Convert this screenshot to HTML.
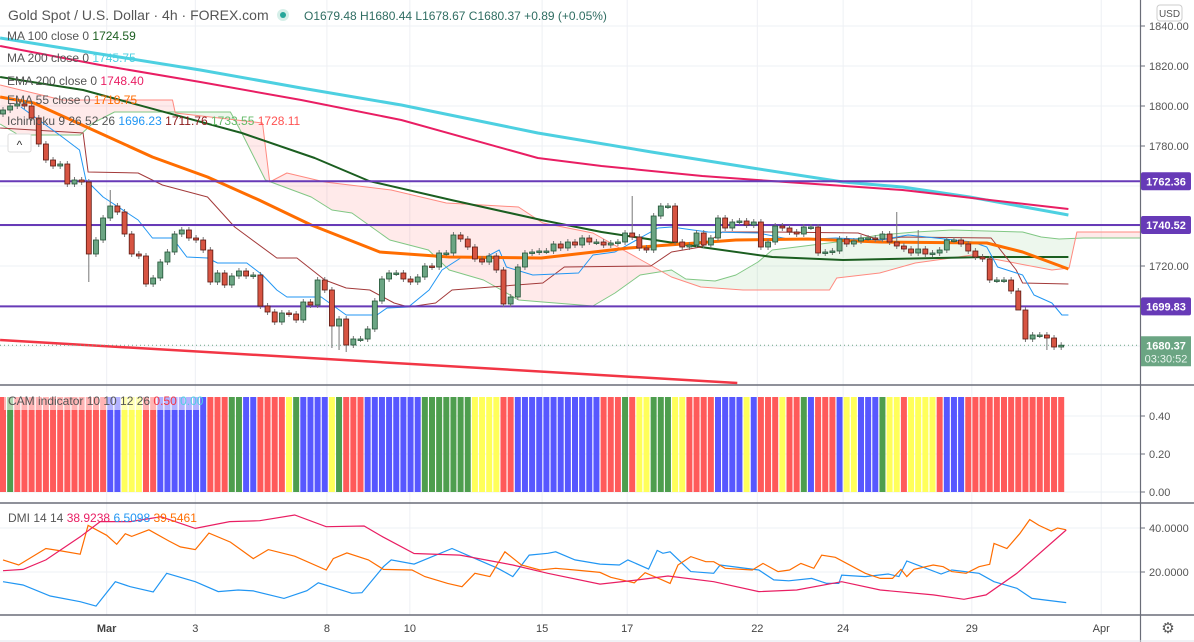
<!DOCTYPE html>
<html><head><meta charset="utf-8"><style>
html,body{margin:0;padding:0;background:#fff;}
svg{display:block;font-family:"Liberation Sans",sans-serif;}
</style></head><body>
<svg id="chart" width="1194" height="642" viewBox="0 0 1194 642" xmlns="http://www.w3.org/2000/svg">
<defs>
<clipPath id="mainClip"><rect x="0" y="0" width="1140" height="385"/></clipPath>
</defs>
<rect x="0" y="0" width="1194" height="642" fill="#ffffff"/>
<g id="grid"></g>
<g id="main" clip-path="url(#mainClip)"></g>
<g id="cam"></g>
<g id="dmi"></g>
<g id="axes"></g>
<g id="legend">
  <text x="8" y="20" font-size="14" fill="#555">Gold Spot / U.S. Dollar · 4h · FOREX.com</text>
  <circle cx="283" cy="15" r="6" fill="#d6efe9"/>
  <circle cx="283" cy="15" r="3" fill="#26a69a"/>
  <text x="304" y="20" font-size="12" fill="#2f6d62">O1679.48  H1680.44  L1678.67  C1680.37  +0.89 (+0.05%)</text>
  <text x="7" y="40" font-size="12" fill="#555">MA 100 close 0 <tspan fill="#1b5e20">1724.59</tspan></text>
  <text x="7" y="62" font-size="12" fill="#555">MA 200 close 0 <tspan fill="#4dd0e1">1745.75</tspan></text>
  <text x="7" y="85" font-size="12" fill="#555">EMA 200 close 0 <tspan fill="#e91e63">1748.40</tspan></text>
  <text x="7" y="104" font-size="12" fill="#555">EMA 55 close 0 <tspan fill="#ff6d00">1718.75</tspan></text>
  <text x="7" y="125" font-size="12" fill="#555">Ichimoku 9 26 52 26 <tspan fill="#2196f3">1696.23</tspan> <tspan fill="#8b1a1a">1711.76</tspan> <tspan fill="#66bb6a">1733.55</tspan> <tspan fill="#ff5252">1728.11</tspan></text>
  <rect x="8" y="134" width="23" height="18" rx="2" fill="#fff" stroke="#ddd"/>
  <text x="19.5" y="149" font-size="12" fill="#333" text-anchor="middle">^</text>
  <rect x="4" y="392" width="196" height="18" fill="rgba(255,255,255,0.55)"/>
  <text x="8" y="405" font-size="12" fill="#555">CAM indicator 10 10 12 26 <tspan fill="#f23645">0.50</tspan> <tspan fill="#4dd0e1">0.00</tspan></text>
  <text x="8" y="522" font-size="12" fill="#555">DMI 14 14 <tspan fill="#e91e63">38.9238</tspan> <tspan fill="#2196f3">6.5098</tspan> <tspan fill="#ff6d00">39.5461</tspan></text>
</g>
</svg>
<script>
// ---------- DATA ----------
const closes = [1798,1800,1801,1800,1794,1781,1773,1770,1771,1761,1763,1762,1726,1733,1744,1750,1747,1736,1726,1725,1711,1714,1722,1727,1736,1738,1734,1733,1728,1712,1716.5,1710.5,1715,1717.5,1715,1715.5,1700,1697,1692,1696.5,1696,1693,1702,1700.5,1713,1708,1690,1693.5,1680.5,1683.5,1683.5,1688.5,1702.5,1713.5,1716.5,1716.5,1713.5,1712,1714.5,1720,1719.5,1726.5,1726.5,1735.5,1733.5,1729.5,1723.5,1722,1725,1718,1701,1704.5,1719.5,1726.5,1727,
1727.5,1727.5,1731,1729,1732,1730.5,1734,1732,1732,1730.5,1731.5,1732,1736.5,1734.5,1729,1728,1745,1750,1750,1732,1729.5,1730.5,1736.5,1730.5,1734,1744,1739,1742,1742.5,1740.5,1742,1729.5,1732,1740,1739,1737,1736,1739.5,1739.5,1726.5,1727,1727.5,1733.5,1731,1732.5,1734,1734,1733.5,1736,1732,1730,1728.5,1726.5,1728.5,1726,1726.5,1728,1733,1733,1731,1727.5,1724.5,1723.5,1713,1713,1713,1707.5,1698,1683.5,1685.5,1685.5,1684,1679.5,1680.4];
const firstOpen = 1796;
const wickExtremes = [[12,null,1712],[15,1758,null],[46,null,1679],[47,null,1678],[48,null,1677],[88,1755,null],[125,1747,null],[128,1738,null],[142,null,1702],[146,null,1678]];

const ma200Idx = [-0.4,13.6,27.6,41.7,55.7,74.8,90.7,104.8,117.5,125.8,135.2,149];
const ma200Val = [1834,1826,1818,1809,1800.5,1786.5,1777,1769,1762,1759.5,1754.5,1745.5];
const ema200Idx = [-0.4,13.6,27.6,41.7,55.7,74.8,83.7,97.8,105.5,125.8,149];
const ema200Val = [1830,1820.5,1812,1803,1793,1774,1770,1765,1763,1758,1748.5];
const ma100Idx = [-0.4,11.2,33.4,43.6,51.2,62.7,75.3,83.7,97.6,107.6,117.5,137.6,149];
const ma100Val = [1814.5,1808,1786.5,1774,1762.5,1753,1743,1737,1729.5,1724.5,1723,1724.5,1724.5];
const ema55Idx = [-0.4,4.3,20.9,28.6,35.8,43.1,52.7,62.4,75.3,87.5,102.5,112.6,122.6,137.6,142.6,149];
const ema55Val = [1804.5,1801.5,1774.5,1764.5,1753,1740.5,1727,1724.5,1724,1729,1733,1733.5,1732,1731.5,1727,1718.5];
const tenkanIdx = [2.5,8.3,10.7,11.6,14.0,18.9,20.9,23.7,25.7,28.6,30.0,34.1,36.3,38.3,39.7,44.5,48.0,52.3,53.7,56.7,59.6,61.4,64.0,67.3,69.4,70.4,74.1,80.5,82.5,85.6,91.6,93.5,96.5,98.6,105.6,110.5,116.5,122.6,126.6,135.6,137.6,139.1,142.6,144.2,146.7,148.1,149];
const tenkanVal = [1799.5,1784.5,1778,1763,1754.5,1743,1734,1734,1724.5,1724,1721.5,1721.5,1715.5,1708,1704.5,1704.5,1695.5,1695.5,1699,1699.5,1708,1718,1724,1724,1728,1719.5,1715.5,1716.5,1725.5,1727,1739,1739.5,1738,1737,1736.5,1733,1734,1733,1735.5,1732,1729.5,1719.5,1715.5,1705.5,1701.5,1695.5,1695.5];
const kijunIdx = [-0.4,11.2,11.9,18.9,22.3,28.6,32.4,38.3,41.1,45.0,48.0,51.3,54.7,56.7,60.5,62.8,75.5,78.5,90.6,93.5,97.6,100.6,107.6,119.6,122.6,125.7,138.2,141.7,142.6,149];
const kijunVal = [1789,1786.5,1767,1766.5,1760.5,1754.5,1739.5,1724,1724,1713,1709,1708,1701.5,1699.5,1701.5,1708,1711.5,1719.5,1720,1727,1729.5,1737,1737,1736.5,1733,1734.5,1734,1718,1711.5,1711];
const spanBIdx = [-0.4,8.3,23.7,24.1,36.3,37.3,39.7,45.0,54.3,62.0,72.1,75.5,82.5,88.5,93.5,97.6,103.5,115.6,116.6,122.6,127.6,135.6,146.7,149.1,150.2,159.5];
const spanBVal = [1810.5,1803,1803,1796.5,1791.5,1762,1766.5,1762,1758,1751.5,1749.5,1741.5,1736.5,1724.5,1714.5,1709.5,1708,1708,1714,1716.5,1721.5,1725.5,1718,1719,1737,1737];
const spanAIdx = [-0.4,2.2,10.8,12.6,15.6,31.8,33.4,36.7,43.1,46.0,48.8,54.1,59.5,62.4,67.2,69.7,72.1,75.5,82.5,85.6,89.1,93.5,95.5,99.6,102.5,105.6,107.6,116.6,122.6,127.6,132.7,142.6,145.2,147.7,151.1,159.5];
const spanAVal = [1791,1785.5,1785.5,1791.5,1797,1797,1786.5,1763,1754.5,1748,1746.5,1733,1728,1718,1713,1708,1703,1702,1700,1706.5,1715.5,1718,1713.5,1712.5,1715.5,1722,1728,1732,1735.5,1737,1738,1737,1734.5,1733.5,1734,1734];
const trendIdx = [-0.4,102.7];
const trendVal = [1683,1661.5];
const levels = [1762.36,1740.52,1699.83];
const lastPrice = 1680.37;
const countdown = "03:30:52";
const priceTicks = [1840,1820,1800,1780,1760,1720];

const camColors = "RGRRRRRRRRRRRRRBBYYYRRBBBBBBBRRRGGBBRRRRYGBBBBYGRRRBBBBBBBBGGGGGGGYYYYRRBBBBBBBBBBBBRRRGRYYGGGYYRRRRBBBBYBRRRYRRGBRRRBYYBBBGYYRYYYYRBBBRRRRRRRRRRRRRR";
const camValue = 0.5;
const camTicks = [0.4,0.2,0.0];

const adxIdx = [0,2.8,6,10.8,13.6,17.8,22.1,26.9,31.7,35.9,40.8,45.2,50.5,53.1,57.5,63.9,71.3,76.2,83.5,88.8,93,99.4,105.7,111,117.3,122.7,130.1,134.4,137.5,141.8,148.7];
const adxVal = [20.6,21.2,25.5,36.0,42.9,42.9,45.1,39.8,42.9,43.3,45.9,40.6,40.9,36.0,28.4,27.7,23.2,19.4,14.5,16.4,18.2,15.6,11.1,11.8,15.6,11.8,9.6,7.6,9.6,19.4,39.1];
const plusIdx = [0,2.8,6.6,10.8,13,15.7,17.8,21,22.9,26.9,30.1,32.9,35,39.3,42.5,44.1,48.8,50.2,53.2,54.3,57.5,62.8,66,69.2,71.3,73.6,76.2,77.3,80,83.5,86.2,87.4,90.3,91.5,92.3,93.3,96.2,99.4,100.3,105.7,107.8,109.9,113.1,115.2,116.9,117.3,120.6,123.8,125.3,126.4,128.5,131.2,132.7,136.5,138.6,141.8,143.9,148.7];
const plusVal = [15.6,14.1,9.1,6.5,4.5,15.6,13.3,10.9,19.4,15.6,11.1,11.8,11.4,8.0,11.5,15.1,10.3,10.6,22.4,25.5,23.6,30.7,26.2,21.7,17.9,27.7,28.5,29.2,25.5,23.6,23.2,25.5,21.3,29.8,28.5,29.2,20.2,19.4,23.2,20.9,16.4,16.0,17.1,14.8,14.8,18.6,17.9,19.1,17.9,25.0,22.4,19.1,20.9,19.4,15.6,12.6,8.0,6.1];
const minusIdx = [0,2.2,6,8.1,10.8,11.9,14.5,15.9,17.1,18,20.4,23.2,24.8,26.9,28.8,31.8,35,37.1,40.8,45.2,46.2,48.1,51.1,53.2,57.2,59,62.2,64.2,66,68.1,70.2,72.5,75.1,77.3,80,83.5,85,88.3,89.8,92,93.3,94.4,96.2,98.3,99.4,101,104.8,106.3,108.4,110,111.6,113.4,114.5,116.4,120.6,122.7,124.4,125.6,126.4,127.4,130.1,131.5,132.7,134.7,136.5,138,138.6,140.4,142.2,143.6,144.9,146.6,147.5,148.7];
const minusVal = [25.5,23.2,30.7,29.6,28.1,41.2,36.7,32.6,37.4,36.2,39.2,34.1,31.4,30.2,37.7,33.6,26.1,30.2,27.2,20.9,26.1,28.7,25.5,21.2,20.9,17.9,14.8,13.3,19.4,17.9,29.2,23.2,20.9,21.7,20.9,19.8,17.6,15.1,19.7,16.7,14.8,23.2,27.0,24.7,24.7,21.7,20.9,23.9,20.2,20.9,23.9,21.7,27.7,26.7,19.4,17.1,17.1,21.2,17.9,21.2,23.2,22.4,20.2,19.4,22.4,23.5,33.0,30.7,37.4,43.8,41.2,38.6,40.0,39.2];
const dmiTicks = [40,20];

const dateLabels = ["Mar","3","8","10","15","17","22","24","29","Apr"];
const dateIdx = [14.5,26.9,45.3,56.9,75.4,87.3,105.5,117.5,135.5,153.6];

// ---------- SCALES ----------
const NS = "http://www.w3.org/2000/svg";
const xs = i => 3 + i * 7.15;
const yP = p => 26 + (1840 - p) * 2;
const yC = v => 492 - v * 190;
const yD = v => 616 - v * 2.2;

function mk(tag, attrs, parent) {
  const e = document.createElementNS(NS, tag);
  for (const k in attrs) e.setAttribute(k, attrs[k]);
  parent.appendChild(e);
  return e;
}
function pts(idx, val, ys) { return idx.map((t, k) => xs(t).toFixed(1) + "," + ys(val[k]).toFixed(1)).join(" "); }

const G = document.getElementById("grid"), M = document.getElementById("main"),
      C = document.getElementById("cam"), D = document.getElementById("dmi"), A = document.getElementById("axes");

// grid
dateIdx.forEach((t) => {
  const l = mk("line", {x1: xs(t), x2: xs(t), y1: 0, y2: 615, stroke: "#eef0f4", "stroke-width": 1}, G);
  
  
});
[1840,1820,1800,1780,1760,1740,1720,1700,1680].forEach(p => {
  const l = mk("line", {x1: 0, x2: 1140, y1: yP(p), y2: yP(p), stroke: "#eef0f4"}, G);
  
  
});
camTicks.forEach(v => {
  const l = mk("line", {x1: 0, x2: 1140, y1: yC(v), y2: yC(v), stroke: "#eef0f4"}, G);
  
  
});
dmiTicks.forEach(v => {
  const l = mk("line", {x1: 0, x2: 1140, y1: yD(v), y2: yD(v), stroke: "#eef0f4"}, G);
  
  
});

// cloud fill
function polyBelow(idx, val) { // area from line down to bottom
  return pts(idx, val, yP) + " " + xs(idx[idx.length-1]) + ",400 " + xs(idx[0]) + ",400";
}
function polyAbove(idx, val) {
  return pts(idx, val, yP) + " " + xs(idx[idx.length-1]) + ",0 " + xs(idx[0]) + ",0";
}
const defs = document.querySelector("defs");
const cpA = mk("clipPath", {id: "aboveA"}, defs); mk("polygon", {points: polyAbove(spanAIdx, spanAVal)}, cpA);
const cpB = mk("clipPath", {id: "aboveB"}, defs); mk("polygon", {points: polyAbove(spanBIdx, spanBVal)}, cpB);
const pink = mk("polygon", {points: polyBelow(spanBIdx, spanBVal), fill: "rgba(255,82,82,0.12)", "clip-path": "url(#aboveA)"}, M);


const grn = mk("polygon", {points: polyBelow(spanAIdx, spanAVal), fill: "rgba(76,175,80,0.1)", "clip-path": "url(#aboveB)"}, M);



function line(idx, val, color, w, name) {
  const e = mk("polyline", {points: pts(idx, val, yP), fill: "none", stroke: color, "stroke-width": w, "stroke-linejoin": "round"}, M);
  
  
}
line(spanAIdx, spanAVal, "#81c784", 1, "senkou-span-a");
line(spanBIdx, spanBVal, "#ff8a80", 1, "senkou-span-b");
line(ma200Idx, ma200Val, "#4dd0e1", 3, "ma200-line");
line(ema200Idx, ema200Val, "#e91e63", 2, "ema200-line");
line(ma100Idx, ma100Val, "#1b5e20", 2, "ma100-line");
line(kijunIdx, kijunVal, "#a33a3a", 1, "kijun-line");
line(tenkanIdx, tenkanVal, "#2196f3", 1, "tenkan-line");
line(ema55Idx, ema55Val, "#ff6d00", 3, "ema55-line");
line(trendIdx, trendVal, "#f23645", 2.5, "downtrend-line");

levels.forEach(p => {
  const l = mk("line", {x1: 0, x2: 1140, y1: yP(p), y2: yP(p), stroke: "#673ab7", "stroke-width": 2}, M);
  
  
});
const dl = mk("line", {x1: 0, x2: 1140, y1: yP(lastPrice), y2: yP(lastPrice), stroke: "#6ba583", "stroke-dasharray": "1,3"}, M);



// candles
closes.forEach((c, i) => {
  const o = i === 0 ? firstOpen : closes[i-1];
  let hi = Math.max(o, c) + 1.5, lo = Math.min(o, c) - 1.5;
  wickExtremes.forEach(w => { if (w[0] === i) { if (w[1] !== null) hi = w[1]; if (w[2] !== null) lo = w[2]; } });
  const up = c >= o, x = xs(i);
  const g = mk("g", {}, M);
  
  
  mk("line", {x1: x, x2: x, y1: yP(hi), y2: yP(lo), stroke: "#777", "stroke-width": 1}, g);
  const top = yP(Math.max(o, c)), h = Math.max(1.5, Math.abs(yP(o) - yP(c)));
  mk("rect", {x: x - 2.5, y: top, width: 5, height: h, fill: up ? "#6ba583" : "#d75442", stroke: up ? "#225437" : "#5b1a13", "stroke-width": 0.8}, g);
});

// CAM bars
const camMap = {R: "#ff5a5a", G: "#4e9e4e", B: "#5757ff", Y: "#ffff5a"};
camColors.split("").forEach((k, i) => {
  const r = mk("rect", {x: xs(i) - 3, y: yC(camValue), width: 6, height: yC(0) - yC(camValue), fill: camMap[k]}, C);
  
  
});

// DMI
function dline(idx, val, color, name) {
  const e = mk("polyline", {points: pts(idx, val, yD), fill: "none", stroke: color, "stroke-width": 1.2}, D);
  
  
}
dline(plusIdx, plusVal, "#2196f3", "plus-di-line");
dline(minusIdx, minusVal, "#ff6d00", "minus-di-line");
dline(adxIdx, adxVal, "#e91e63", "adx-line");

// axes & separators
[[385],[503],[615]].forEach(a => {
  const l = mk("line", {x1: 0, x2: 1194, y1: a[0], y2: a[0], stroke: "#6a6d78", "stroke-width": 1.5}, A);
  
  
});
const va = mk("line", {x1: 1140.5, x2: 1140.5, y1: 0, y2: 642, stroke: "#6a6d78", "stroke-width": 1.2}, A);


mk("rect", {x: 1141.5, y: 616, width: 53, height: 26, fill: "#fff"}, A);

function tick(y, label, name) {
  mk("line", {x1: 1141, x2: 1145, y1: y, y2: y, stroke: "#6a6d78"}, A);
  const t = mk("text", {x: 1149, y: y + 4, "font-size": 11, fill: "#555"}, A);
  t.textContent = label;
  
  
}
priceTicks.forEach(p => tick(yP(p), p.toFixed(2), 'price-tick-label'));
camTicks.forEach(v => tick(yC(v), v.toFixed(2), 'cam-tick-label'));
dmiTicks.forEach(v => tick(yD(v), v.toFixed(4), 'dmi-tick-label'));

const ub = mk("rect", {x: 1157, y: 5, width: 25, height: 16, rx: 3, fill: "#fff", stroke: "#ccc"}, A);


const ut = mk("text", {x: 1169.5, y: 17, "font-size": 10, fill: "#555", "text-anchor": "middle"}, A);
ut.textContent = "USD";



levels.forEach(p => {
  const y = yP(p);
  const r = mk("rect", {x: 1141, y: y - 9, width: 50, height: 18, rx: 2, fill: "#673ab7"}, A);
  
  
  const t = mk("text", {x: 1166, y: y + 4, "font-size": 11, "font-weight": "bold", fill: "#fff", "text-anchor": "middle"}, A);
  t.textContent = p.toFixed(2);
  
  
});
const lp = yP(lastPrice);
const lr = mk("rect", {x: 1141, y: lp - 9, width: 50, height: 30, fill: "#6ba583"}, A);


const lt = mk("text", {x: 1166, y: lp + 4, "font-size": 11, "font-weight": "bold", fill: "#fff", "text-anchor": "middle"}, A);
lt.textContent = lastPrice.toFixed(2);


const ct = mk("text", {x: 1166, y: lp + 17, "font-size": 11, fill: "#e8f5ee", "text-anchor": "middle"}, A);
ct.textContent = countdown;



dateLabels.forEach((d, k) => {
  const t = mk("text", {x: xs(dateIdx[k]), y: 632, "font-size": 11, fill: "#444", "text-anchor": "middle", "font-weight": d === "Mar" ? "bold" : "normal"}, A);
  t.textContent = d;
  
  
});
const gear = mk("text", {x: 1168, y: 633, "font-size": 15, fill: "#555", "text-anchor": "middle"}, A);
gear.textContent = "⚙";


mk("line", {x1: 0, x2: 1194, y1: 641, y2: 641, stroke: "#e0e3eb"}, A);
</script>
</body></html>
